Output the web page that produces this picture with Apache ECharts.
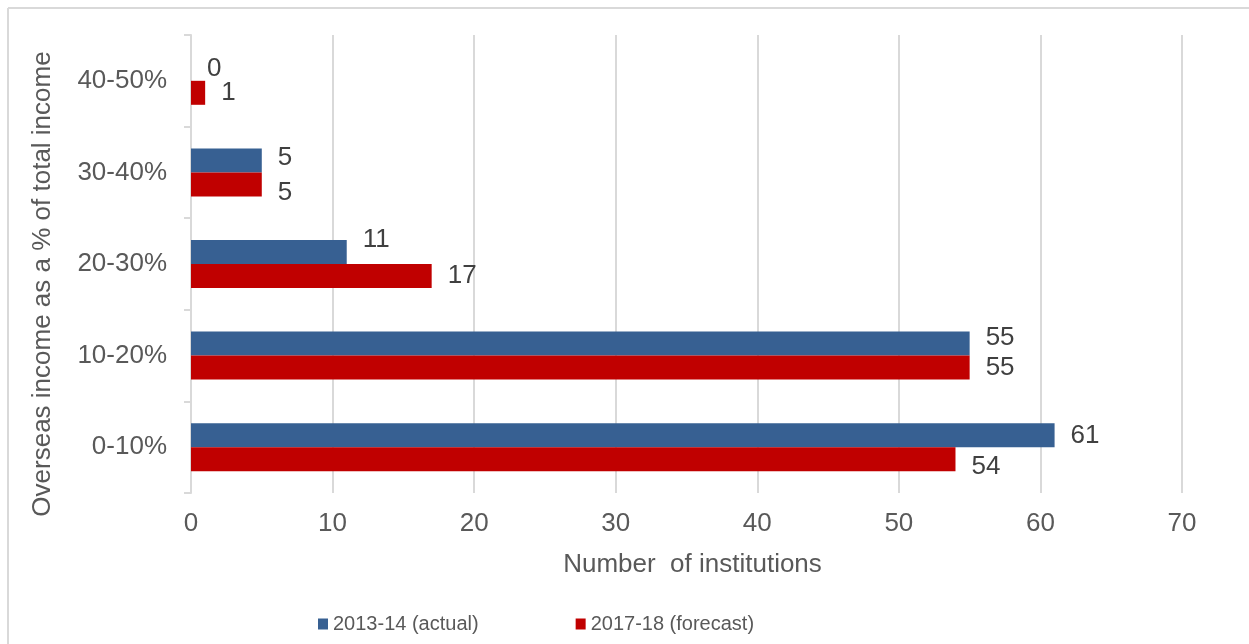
<!DOCTYPE html>
<html>
<head>
<meta charset="utf-8">
<script src="https://cdn.jsdelivr.net/npm/echarts@6/dist/echarts.min.js"></script>
<style>
  html, body { margin: 0; padding: 0; background: #fff; }
  #chart { width: 1249px; height: 644px; }
</style>
</head>
<body>
<div id="chart"></div>
<script>
// Income bands (bottom to top on the category axis)
const bands = ['0-10%', '10-20%', '20-30%', '30-40%', '40-50%'];
// Number of institutions per band
const actual2013 = [61, 55, 11, 5, 0];
const forecast2017 = [54, 55, 17, 5, 1];
const seriesNames = ['2013-14 (actual)', '2017-18 (forecast)'];

// Small vertical nudges (px) that keep paired value labels apart
const actualLabelShift = [1, -6, -12, -3, 0];
const forecastLabelShift = [8, 0, 0, 8, 0];

const FONT = '"Liberation Sans", Arial, sans-serif';
const chart = echarts.init(document.getElementById('chart'), null, { renderer: 'canvas' });

const labelStyle = {
  show: true,
  position: 'right',
  distance: 16,
  color: '#404040',
  fontSize: 26,
  fontFamily: FONT
};

function withLabels(values, shifts) {
  return values.map((v, i) => ({
    value: v,
    label: { offset: [0, shifts[i]] }
  }));
}

chart.setOption({
  animation: false,
  backgroundColor: '#ffffff',
  textStyle: { fontFamily: FONT },
  graphic: [
    { type: 'line', shape: { x1: 8, y1: 8, x2: 1249, y2: 8 }, style: { stroke: '#d9d9d9', lineWidth: 2 } },
    { type: 'line', shape: { x1: 8, y1: 8, x2: 8, y2: 644 }, style: { stroke: '#d9d9d9', lineWidth: 2 } },
    {
      type: 'text',
      x: 43,
      y: 284,
      rotation: Math.PI / 2,
      style: {
        text: 'Overseas income as a % of total income',
        fill: '#595959',
        font: '26px ' + FONT,
        textAlign: 'center',
        textVerticalAlign: 'middle'
      }
    }
  ],
  grid: { left: 191, right: 67, top: 35, bottom: 151, containLabel: false },
  legend: {
    top: 614,
    left: 318,
    padding: 0,
    itemWidth: 10,
    itemHeight: 11,
    itemGap: 97,
    icon: 'rect',
    textStyle: { color: '#595959', fontSize: 20, fontFamily: FONT },
    data: seriesNames
  },
  xAxis: {
    type: 'value',
    min: 0,
    max: 70,
    interval: 10,
    name: 'Number  of institutions',
    nameLocation: 'middle',
    nameGap: 59,
    nameTextStyle: { color: '#595959', fontSize: 26, fontFamily: FONT, padding: [0, 0, 0, 12] },
    axisLine: { show: false },
    axisTick: { show: false },
    axisLabel: { color: '#595959', fontSize: 26, fontFamily: FONT, margin: 18 },
    splitLine: { show: true, lineStyle: { color: '#d9d9d9', width: 2 } }
  },
  yAxis: {
    type: 'category',
    data: bands,
    axisLine: { show: true, lineStyle: { color: '#d9d9d9', width: 2 } },
    axisTick: { show: true, length: 7, lineStyle: { color: '#d9d9d9', width: 2 } },
    axisLabel: { color: '#595959', fontSize: 26, fontFamily: FONT, margin: 24 }
  },
  series: [
    {
      name: seriesNames[0],
      type: 'bar',
      data: withLabels(actual2013, actualLabelShift),
      barWidth: 24,
      barGap: '0%',
      itemStyle: { color: '#376092' },
      label: labelStyle
    },
    {
      name: seriesNames[1],
      type: 'bar',
      data: withLabels(forecast2017, forecastLabelShift),
      barWidth: 24,
      barGap: '0%',
      itemStyle: { color: '#C00000' },
      label: labelStyle
    }
  ]
});
</script>
</body>
</html>
